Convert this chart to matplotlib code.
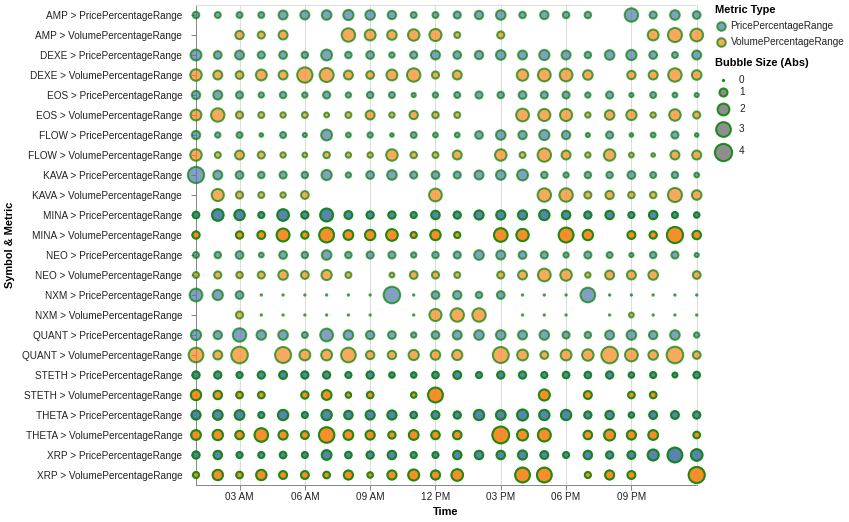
import numpy as np
import matplotlib.pyplot as plt

plt.rcParams['font.family'] = ['Liberation Sans', 'DejaVu Sans']

nan = np.nan
hours = list(range(1, 25))  # 01 AM .. 12 AM next day
symbols = ['AMP', 'DEXE', 'EOS', 'FLOW', 'KAVA', 'MINA', 'NEO', 'NXM',
           'QUANT', 'STETH', 'THETA', 'XRP']
metrics = ['PricePercentageRange', 'VolumePercentageRange']
# these symbols appear twice in the source data, so their marks stack
doubled = ['MINA', 'STETH', 'THETA', 'XRP']

# bubble size (abs) per hour, nan = no record
amp_price = [0.68, 0.58, 0.58, 0.58, 1.22, 1.22, 1.37, 1.54, 1.37, 1.07, 0.58, 0.58, 0.80, 1.07, 1.37, 0.68, 1.07, 0.68, 0.68, nan, 2.52, 0.80, 1.37, 0.93]
amp_volume = [nan, nan, 1.07, 0.80, 1.22, nan, nan, 2.52, 1.72, 1.37, 1.90, 2.10, 0.58, nan, 0.80, nan, nan, nan, nan, nan, nan, 1.72, 2.74, 2.30]
dexe_price = [1.72, 0.93, 1.22, 0.80, 0.93, 0.68, 1.72, 0.68, 0.93, 0.48, 0.80, 1.22, 0.93, 1.07, 1.37, 1.22, 1.54, 1.22, 0.68, 1.37, 1.54, 0.93, 0.58, 1.22]
dexe_volume = [1.90, 1.22, 0.93, 1.72, 1.22, 3.22, 2.74, 1.22, 0.93, 1.72, 2.52, 0.80, 1.22, nan, nan, 1.90, 2.30, 2.30, 1.37, nan, 1.07, 1.22, 2.52, 1.37]
eos_price = [1.07, 1.22, 0.80, 0.48, 0.68, 0.48, 0.80, 0.48, 0.68, 0.58, 0.30, 0.48, 0.58, 0.80, 0.68, 0.93, 0.80, 0.80, 0.48, 0.80, 0.30, 0.58, 0.39, 0.30]
eos_volume = [1.72, 2.52, 0.80, 0.58, 0.48, 0.58, 0.39, 0.58, 1.22, 0.48, 1.07, 0.68, 0.58, nan, nan, 2.30, 2.10, 2.10, 0.48, 1.37, 1.54, 0.48, 1.90, 0.80]
flow_price = [1.07, 0.48, 0.58, 0.23, 0.58, 0.30, 1.72, 0.39, 0.48, 0.23, 0.58, 0.39, 0.39, 0.93, 1.37, 1.07, 1.54, 1.07, 0.30, 0.80, 0.23, 0.39, 0.80, 0.23]
flow_volume = [1.90, 0.58, 1.22, 0.80, 0.48, 0.39, 0.68, 0.48, 0.48, 1.90, 0.68, 0.58, 1.22, nan, 1.90, 0.58, 2.52, 1.22, 0.48, 1.90, 0.39, 0.23, 1.22, 1.22]
kava_price = [3.60, 1.22, 0.93, 0.68, 0.80, 0.68, 1.54, 0.48, 0.93, 1.37, 0.80, 0.93, 0.80, 1.22, 1.37, 1.72, 0.68, 0.48, 0.68, 0.68, 0.93, 0.58, 0.68, 0.39]
kava_volume = [nan, 2.10, 0.80, 0.58, 0.48, 0.93, nan, nan, nan, nan, nan, 2.30, nan, nan, nan, nan, 2.52, 2.52, 0.80, 1.07, 0.68, 0.68, 2.74, 1.37]
mina_price = [0.68, 1.90, 1.54, 0.58, 1.90, 0.80, 2.30, 0.93, 0.80, 0.80, 0.58, 1.07, 0.80, 1.22, 1.22, 1.22, 1.54, 1.07, 0.80, 1.07, 0.58, 1.07, 0.58, 0.48]
mina_volume = [0.80, nan, 0.80, 0.93, 2.30, 0.80, 2.97, 1.37, 1.54, 1.90, 0.58, 1.54, 0.58, nan, 2.52, 2.10, nan, 2.97, 1.54, nan, 0.93, 0.80, 3.47, 1.07]
neo_price = [0.58, 0.68, 0.93, 0.39, 0.93, 0.68, 1.37, 0.68, 0.80, 0.80, 0.48, 0.68, 0.80, 1.37, 1.22, 0.93, 0.80, 0.48, 0.80, 0.58, 0.30, 0.68, 0.80, 0.30]
neo_volume = [0.58, 0.80, 0.68, 0.80, 1.37, 0.93, 1.54, 0.58, nan, 0.39, 0.93, 0.80, 0.58, nan, 0.80, 1.22, 2.30, 1.90, 0.48, 1.22, 1.22, 1.37, nan, 0.93]
nxm_price = [2.30, 1.54, 0.93, 0, 0, 0, 0, 0, 0, 3.73, 0, 0.93, 1.07, 0.68, 0.93, 0, 0, 0, 2.97, 0, 0, 0, 0, 0]
nxm_volume = [nan, nan, 0.80, 0, 0, 0, 0, 0, 0, nan, 0, 2.10, 2.52, 2.52, nan, 0, 0, 0, nan, 0, 0.39, 0, 0, 0]
quant_price = [1.54, 1.07, 2.52, 1.37, 1.37, 0.58, 2.30, 1.37, 1.07, 0.93, 0.48, 0.93, 1.22, 1.37, 1.37, 1.22, 1.37, 0.80, 0.68, 1.22, 1.37, 1.07, 1.37, 0.48]
quant_volume = [2.97, 1.22, 3.73, nan, 3.47, 1.72, 1.72, 2.97, 1.07, 1.07, 1.54, 1.37, 1.54, nan, 3.47, 1.72, 0.93, 1.72, 1.90, 3.73, 2.30, 1.37, 3.73, 0.93]
steth_price = [0.80, 0.80, 0.58, 0.80, 0.93, 0.80, 0.80, 0.58, 0.80, 0.48, 0.48, 0.68, 0.93, 0.58, 0.80, 0.80, 0.58, 0.68, 0.68, 0.80, 0.48, 0.58, 0.39, 0.68]
steth_volume = [1.54, 1.07, 0.68, 0.68, nan, 0.80, 1.37, 0.48, 0.68, nan, 0.48, 2.97, nan, nan, nan, nan, 1.72, nan, 0.93, nan, 0.68, 0.68, nan, nan]
theta_price = [1.22, 1.37, 1.37, 0.58, 1.54, 0.58, 1.54, 1.07, 1.22, 1.22, 0.68, 0.93, 0.80, 1.54, 1.37, 1.72, 1.54, 1.54, 0.80, 1.07, 0.48, 0.93, 0.93, 0.80]
theta_volume = [1.37, 1.54, 1.07, 2.52, 1.22, 0.93, 3.22, 1.37, 1.22, 0.80, 1.37, 1.07, 1.07, nan, 3.73, 1.72, 2.30, nan, 1.07, 1.72, 1.22, 1.37, nan, 0.68]
xrp_price = [0.80, 1.07, 0.58, 0.58, 0.68, 0.58, 1.37, 0.68, 0.80, 1.07, 0.58, 0.58, 1.07, 1.07, 1.07, 1.22, 0.93, 0.58, 1.07, 0.80, 0.93, 1.72, 2.97, 1.90]
xrp_volume = [0.58, 1.54, 0.68, 1.54, 0.93, 0.93, 0.68, 1.22, 0.48, 1.22, 1.72, 1.22, 1.90, nan, nan, 2.97, 2.97, nan, 0.58, 1.22, 0.93, nan, nan, 3.47]

series = [amp_price, amp_volume, dexe_price, dexe_volume, eos_price, eos_volume,
          flow_price, flow_volume, kava_price, kava_volume, mina_price, mina_volume,
          neo_price, neo_volume, nxm_price, nxm_volume, quant_price, quant_volume,
          steth_price, steth_volume, theta_price, theta_volume, xrp_price, xrp_volume]

legend_sizes = [0, 1, 2, 3, 4]
colors = {'PricePercentageRange': '#4c78a8', 'VolumePercentageRange': '#f58518'}

LW = 1.44  # 2px stroke


def marker_area(v):
    # area-linear size scale, visible diameter in px -> scatter s in pt^2
    d = np.sqrt(3.4 ** 2 + (19.3 ** 2 - 3.4 ** 2) * np.asarray(v) / 4.0)
    inner = np.maximum(d * 0.72 - LW, 0.9)
    return inner ** 2


W, H = 849, 522
fig = plt.figure(figsize=(W / 100, H / 100), dpi=100)
ax = fig.add_axes([196 / W, 37 / H, 500.7 / W, 480 / H])

labels = []
i = 0
for sym in symbols:
    for met in metrics:
        vals = np.array(series[i], dtype=float)
        ok = ~np.isnan(vals)
        xs = np.array(hours)[ok]
        ys = np.full(ok.sum(), i)
        reps = 2 if sym in doubled else 1
        for _ in range(reps):
            ax.scatter(xs, ys, s=marker_area(vals[ok]), c=colors[met],
                       edgecolors='green', linewidths=LW, alpha=0.7,
                       zorder=3, clip_on=False)
        labels.append(sym + ' > ' + met)
        i += 1

ax.set_xlim(1, 24)
ax.set_ylim(len(labels) - 0.5, -0.5)
ax.set_yticks(range(len(labels)))
ax.set_yticklabels(labels)
ax.set_xticks([3, 6, 9, 12, 15, 18, 21])
ax.set_xticklabels(['03 AM', '06 AM', '09 AM', '12 PM', '03 PM', '06 PM', '09 PM'])
ax.tick_params(axis='both', length=3.6, width=0.72, color='#888888',
               labelsize=7.2, labelcolor='#222222', pad=1.5)
ax.tick_params(axis='y', pad=6.3)
ax.xaxis.grid(True, color='#dddddd', linewidth=0.72)
ax.set_axisbelow(True)
for side in ['top', 'right']:
    ax.spines[side].set_color('#dddddd')
    ax.spines[side].set_linewidth(0.72)
for side in ['left', 'bottom']:
    ax.spines[side].set_color('#888888')
    ax.spines[side].set_linewidth(0.72)

fig.text(446 / W, 1 - 512 / H, 'Time', ha='center', va='center',
         fontsize=7.9, fontweight='bold', color='#000000')
fig.text(10 / W, 1 - 245 / H, 'Symbol & Metric', ha='center', va='center',
         rotation=90, fontsize=7.9, fontweight='bold', color='#000000')

# legends, drawn in pixel coordinates on an overlay
lax = fig.add_axes([0, 0, 1, 1], facecolor='none')
lax.set_xlim(0, W)
lax.set_ylim(H, 0)
lax.axis('off')

lax.text(715, 10, 'Metric Type', fontsize=7.9, fontweight='bold', va='center')
for k, met in enumerate(metrics):
    yy = 26 + 16 * k
    lax.scatter([721.5], [yy], s=marker_area(1.1), c=colors[met],
                edgecolors='green', linewidths=LW, alpha=0.7)
    lax.text(730.5, yy, met, fontsize=7.2, va='center', color='#222222')

lax.text(715, 63, 'Bubble Size (Abs)', fontsize=7.9, fontweight='bold', va='center')
size_y = [80, 92, 108.5, 128.5, 151.5]
for v, yy in zip(legend_sizes, size_y):
    lax.scatter([723.5], [yy], s=marker_area(v), c='#7a7a7a',
                edgecolors='green', linewidths=LW, alpha=0.85)
    lax.text(739, yy, str(v), fontsize=7.2, va='center', color='#222222')

fig.savefig('out.png', dpi=100)
